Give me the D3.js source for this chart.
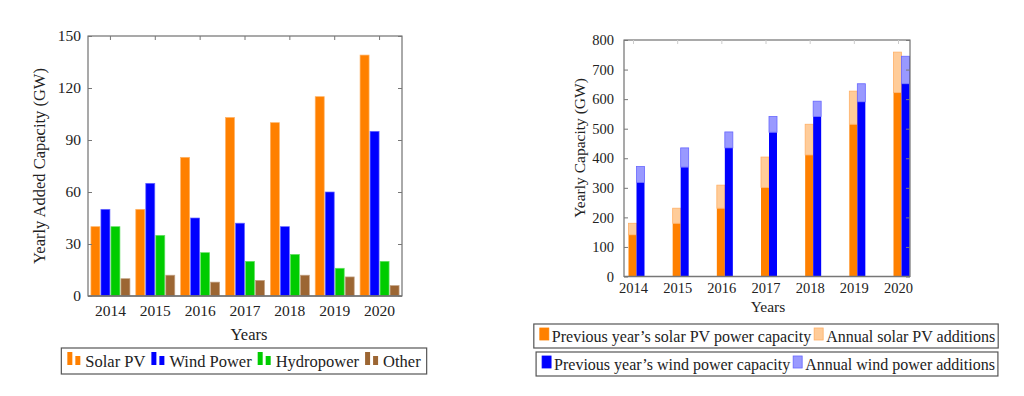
<!DOCTYPE html>
<meta charset="utf-8">
<script src="https://d3js.org/d3.v7.min.js"></script>
<style>
  body { margin: 0; background: #fff; }
  text { font-family: "Liberation Serif", "Times New Roman", serif; fill: #222; }
</style>
<div id="chart"></div>
<script>
// ---- data ----
var years = ["2014", "2015", "2016", "2017", "2018", "2019", "2020"];

// left chart: yearly added capacity (GW)
var seriesNames = ["Solar PV", "Wind Power", "Hydropower", "Other"];
var solarAdded = [40, 50, 80, 103, 100, 115, 139];
var windAdded  = [50, 65, 45, 42, 40, 60, 95];
var hydroAdded = [40, 35, 25, 20, 24, 16, 20];
var otherAdded = [10, 12, 8, 9, 12, 11, 6];
var addedTicks = [0, 30, 60, 90, 120, 150];

// right chart: cumulative capacity (GW)
var solarPrev = [141, 180, 231, 301, 411, 515, 622];
var solarAdd  = [39, 51, 78, 103, 104, 112, 137];
var windPrev  = [318, 370, 435, 488, 541, 591, 652];
var windAdd   = [54, 65, 54, 53, 52, 61, 93];
var capTicks = [0, 100, 200, 300, 400, 500, 600, 700, 800];

var colors = {"Solar PV": "#ff8000", "Wind Power": "#0000ff", "Hydropower": "#00cc00", "Other": "#9c6633"};
var addedValues = {"Solar PV": solarAdded, "Wind Power": windAdded, "Hydropower": hydroAdded, "Other": otherAdded};

var svg = d3.select("#chart").append("svg")
  .attr("width", 1024).attr("height", 396);

// ================= left chart =================
var L = {left: 88, top: 36, width: 314, height: 260};
var gL = svg.append("g").attr("transform", "translate(" + L.left + "," + L.top + ")");

var xL = d3.scaleBand().domain(years).range([0, L.width]);
var xSub = d3.scaleBand().domain(seriesNames).range([-19.5, 19.5]).paddingInner(0.1);
var yL = d3.scaleLinear().domain([0, 150]).range([L.height, 0]);

// bars
seriesNames.forEach(function(s) {
  gL.selectAll(".bar-" + s.replace(" ", ""))
    .data(years)
    .enter().append("rect")
    .attr("x", function(d) { return xL(d) + xL.bandwidth() / 2 + xSub(s); })
    .attr("y", function(d, i) { return yL(addedValues[s][i]); })
    .attr("width", xSub.bandwidth())
    .attr("height", function(d, i) { return yL(0) - yL(addedValues[s][i]); })
    .attr("fill", colors[s])
    .attr("stroke", d3.interpolateRgb(colors[s], "#fff")(0.4))
    .attr("stroke-width", 0.7);
});

// frame and ticks
gL.append("rect").attr("width", L.width).attr("height", L.height)
  .attr("fill", "none").attr("stroke", "#555").attr("stroke-width", 1);
gL.append("line").attr("x1", 0).attr("x2", L.width).attr("y1", L.height).attr("y2", L.height)
  .attr("stroke", "#777").attr("stroke-width", 1.6);

var yAxisL = gL.append("g").call(d3.axisLeft(yL).tickValues(addedTicks).tickSize(-4).tickPadding(7));
yAxisL.select(".domain").remove();
yAxisL.selectAll("line").attr("stroke", "#777");
yAxisL.selectAll("text").style("font-size", "15.5px").attr("fill", "#222");
var yAxisLr = gL.append("g").attr("transform", "translate(" + L.width + ",0)")
  .call(d3.axisRight(yL).tickValues(addedTicks).tickSize(-4).tickFormat(""));
yAxisLr.select(".domain").remove();
yAxisLr.selectAll("line").attr("stroke", "#777");

var xTopL = gL.append("g").call(d3.axisTop(xL).tickSize(-4).tickFormat(""));
xTopL.select(".domain").remove();
xTopL.selectAll("line").attr("stroke", "#777");
var xAxisL = gL.append("g").attr("transform", "translate(0," + L.height + ")")
  .call(d3.axisBottom(xL).tickSize(0).tickPadding(9));
xAxisL.select(".domain").remove();
xAxisL.selectAll("text").style("font-size", "15.5px").attr("fill", "#222");

gL.append("text").attr("x", L.width / 2 + 4).attr("y", L.height + 44)
  .attr("text-anchor", "middle").style("font-size", "16.5px").text("Years");
svg.append("text")
  .attr("transform", "translate(45,166) rotate(-90)")
  .attr("text-anchor", "middle").style("font-size", "16.5px")
  .text("Yearly Added Capacity (GW)");

// legend box with entries laid out in a row
function legend(entries, cx, top, h, drawSwatch, sw, fs, gap) {
  var g = svg.append("g");
  var box = g.append("rect").attr("fill", "#fff").attr("stroke", "#555").attr("stroke-width", 1.2);
  var x = 0;
  entries.forEach(function(e) {
    var eg = g.append("g").attr("transform", "translate(" + x + ",0)");
    drawSwatch(eg, e);
    var t = eg.append("text").attr("x", sw + 3).attr("y", h / 2 + 5.5)
      .style("font-size", fs + "px").text(e.label);
    x += sw + 3 + t.node().getComputedTextLength() + gap;
  });
  var w = x + 6;
  box.attr("x", -6).attr("y", 0).attr("width", w).attr("height", h);
  g.attr("transform", "translate(" + (cx - w / 2 + 6) + "," + top + ")");
}

legend(seriesNames.map(function(s) { return {label: s, color: colors[s]}; }),
  244, 348, 26,
  function(g, e) {
    g.append("rect").attr("x", 0).attr("y", 4).attr("width", 5).attr("height", 13).attr("fill", e.color);
    g.append("rect").attr("x", 8).attr("y", 8).attr("width", 5).attr("height", 9).attr("fill", e.color);
  }, 15, 16.5, 6);

// ================= right chart =================
var R = {left: 624, top: 40, width: 286, height: 236.5};
var gR = svg.append("g").attr("transform", "translate(" + R.left + "," + R.top + ")");

var xR = d3.scalePoint().domain(years).range([9, 274]);
var yR = d3.scaleLinear().domain([0, 800]).range([R.height, 0]);

var barW = 8;
function stackBars(prev, add, dark, light, stroke, dx) {
  gR.append("g").selectAll("rect").data(years).enter().append("rect")
    .attr("x", function(d) { return xR(d) + dx; })
    .attr("y", function(d, i) { return yR(prev[i]); })
    .attr("width", barW)
    .attr("height", function(d, i) { return yR(0) - yR(prev[i]); })
    .attr("fill", dark);
  gR.append("g").selectAll("rect").data(years).enter().append("rect")
    .attr("x", function(d) { return xR(d) + dx; })
    .attr("y", function(d, i) { return yR(prev[i] + add[i]); })
    .attr("width", barW)
    .attr("height", function(d, i) { return yR(prev[i]) - yR(prev[i] + add[i]); })
    .attr("fill", light).attr("stroke", stroke).attr("stroke-width", 0.8);
}
stackBars(solarPrev, solarAdd, "#ff8000", "#ffcc99", "#ffb066", -4.5);
stackBars(windPrev, windAdd, "#0000ff", "#9999ff", "#6666ff", 3.5);

gR.append("rect").attr("width", R.width).attr("height", R.height)
  .attr("fill", "none").attr("stroke", "#555").attr("stroke-width", 1);
gR.append("line").attr("x1", 0).attr("x2", R.width).attr("y1", R.height).attr("y2", R.height)
  .attr("stroke", "#777").attr("stroke-width", 1.6);

var yAxisR = gR.append("g").call(d3.axisLeft(yR).tickValues(capTicks).tickSize(-4).tickPadding(10));
yAxisR.select(".domain").remove();
yAxisR.selectAll("line").attr("stroke", "#777");
yAxisR.selectAll("text").style("font-size", "14.5px").attr("fill", "#222");
var yAxisRr = gR.append("g").attr("transform", "translate(" + R.width + ",0)")
  .call(d3.axisRight(yR).tickValues(capTicks).tickSize(-4).tickFormat(""));
yAxisRr.select(".domain").remove();
yAxisRr.selectAll("line").attr("stroke", "#777");

var xTopR = gR.append("g").call(d3.axisTop(xR).tickSize(-4).tickFormat(""));
xTopR.select(".domain").remove();
xTopR.selectAll("line").attr("stroke", "#ccc");
var xAxisR = gR.append("g").attr("transform", "translate(0," + R.height + ")")
  .call(d3.axisBottom(xR).tickSize(0).tickPadding(6));
xAxisR.select(".domain").remove();
xAxisR.selectAll("text").style("font-size", "14.5px").attr("fill", "#222");

gR.append("text").attr("x", 144).attr("y", R.height + 35)
  .attr("text-anchor", "middle").style("font-size", "15.5px").text("Years");
svg.append("text")
  .attr("transform", "translate(585,148) rotate(-90)")
  .attr("text-anchor", "middle").style("font-size", "15.5px")
  .text("Yearly Capacity (GW)");

function squareSwatch(g, e) {
  g.append("rect").attr("x", 0).attr("y", 4).attr("width", 9).attr("height", 12)
    .attr("fill", e.color).attr("stroke", e.stroke).attr("stroke-width", 0.8);
}
legend([
  {label: "Previous year\u2019s solar PV power capacity", color: "#ff8000", stroke: "#ff8000"},
  {label: "Annual solar PV additions", color: "#ffcc99", stroke: "#ffb066"}
], 766, 324, 24, squareSwatch, 9, 16, 3);
legend([
  {label: "Previous year\u2019s wind power capacity", color: "#0000ff", stroke: "#0000ff"},
  {label: "Annual wind power additions", color: "#9999ff", stroke: "#6666ff"}
], 767, 352, 24, squareSwatch, 9, 16, 3);
</script>
